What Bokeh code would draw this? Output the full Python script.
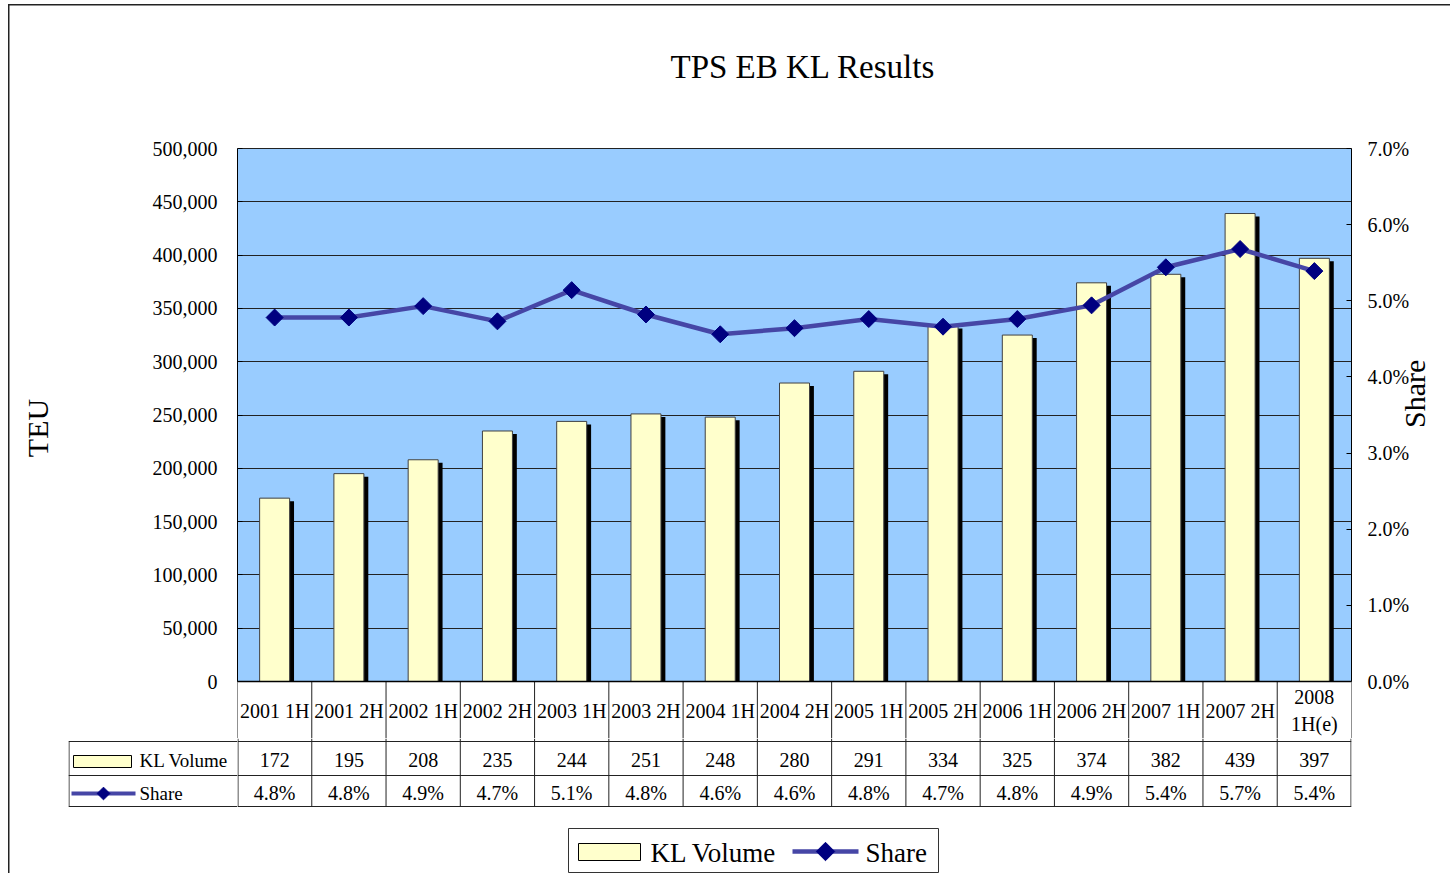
import math
from bokeh.plotting import figure
from bokeh.models import (FactorRange, Range1d, LinearAxis, FixedTicker, NumeralTickFormatter,
                          ColumnDataSource, BoxAnnotation, Span, Grid)
from bokeh.transform import dodge
from bokeh.layouts import column, row
from bokeh.core.properties import value
from bokeh.embed import file_html
from bokeh.resources import INLINE

# ---------------- data ----------------
categories = ["2001 1H", "2001 2H", "2002 1H", "2002 2H", "2003 1H", "2003 2H", "2004 1H",
              "2004 2H", "2005 1H", "2005 2H", "2006 1H", "2006 2H", "2007 1H", "2007 2H",
              "2008 1H(e)"]
kl_volume = [172000, 195000, 208000, 235000, 244000, 251000, 248000, 280000, 291000,
             334000, 325000, 374000, 382000, 439000, 397000]
share = [0.0478, 0.0478, 0.0493, 0.0473, 0.0514, 0.0482, 0.0456, 0.0464, 0.0476,
         0.0466, 0.0476, 0.0494, 0.0544, 0.0568, 0.0539]
teu_ticks = [0, 50000, 100000, 150000, 200000, 250000, 300000, 350000, 400000, 450000, 500000]
share_ticks = [0.0, 0.01, 0.02, 0.03, 0.04, 0.05, 0.06, 0.07]
title_text = "TPS EB KL Results"
series_names = ["KL Volume", "Share"]

# ---------------- layout (page pixels) ----------------
FONT = "Liberation Serif"
W = 1450
PLOT_L, PLOT_R, PLOT_T, ZERO_Y = 237, 1351, 148, 681
FRAME_T = 117
SPLIT_Y = 738
PAGE_BOTTOM = 873
TABLE_L = 68
ROW_Y = [741, 775, 806]
TEU_MAX = teu_ticks[-1]
SHARE_MAX = share_ticks[-1]
px_per_teu = (ZERO_Y - PLOT_T) / TEU_MAX
y_start = -(SPLIT_Y - ZERO_Y) / px_per_teu
y_end = TEU_MAX + (PLOT_T - FRAME_T) / px_per_teu
n = len(categories)
CW = (PLOT_R - PLOT_L) / n
H2 = PAGE_BOTTOM - SPLIT_Y

BLUE = "#99CCFF"
BAR = "#FFFFCC"
LINE = "#4646A6"
MARK = "#000080"
GRIDC = "#222222"

src = ColumnDataSource(dict(
    cat=categories, vol=kl_volume, share=share,
    label=[c.replace(" ", "\n") if len(c) > 8 else c for c in categories],
))

common = dict(toolbar_location=None, output_backend="svg",
              x_axis_location=None, y_axis_location=None,
              background_fill_color="white", border_fill_color=None,
              outline_line_color=None)

# ---------------- top figure (chart + category row) ----------------
top = figure(width=W, height=SPLIT_Y,
             x_range=FactorRange(*categories), y_range=Range1d(y_start, y_end),
             min_border_left=PLOT_L, min_border_right=W - PLOT_R,
             min_border_top=FRAME_T, min_border_bottom=0, **common)
top.xgrid.visible = False
top.ygrid.visible = False

top.title.text = title_text
top.title.text_font = FONT
top.title.text_font_size = "33px"
top.title.text_font_style = "normal"
top.title.align = "left"
top.title.offset = 801 - 131 - PLOT_L
top.title.standoff = 65
top.title.text_color = "black"

top.extra_y_ranges = {"share": Range1d(y_start * SHARE_MAX / TEU_MAX,
                                       y_end * SHARE_MAX / TEU_MAX)}

top.add_layout(BoxAnnotation(bottom=0, top=TEU_MAX, fill_color=BLUE, fill_alpha=1.0,
                             line_color=None, level="image"))
top.add_layout(Grid(dimension=1, ticker=FixedTicker(ticks=teu_ticks),
                    grid_line_color=GRIDC, grid_line_width=1))

left_ax = LinearAxis(ticker=FixedTicker(ticks=teu_ticks),
                     formatter=NumeralTickFormatter(format="0,0"),
                     bounds=(0, TEU_MAX), axis_label="TEU")
right_ax = LinearAxis(y_range_name="share", ticker=FixedTicker(ticks=share_ticks),
                      formatter=NumeralTickFormatter(format="0.0%"),
                      bounds=(0, SHARE_MAX), axis_label="Share")
for ax in (left_ax, right_ax):
    ax.major_label_text_font = FONT
    ax.major_label_text_font_size = "20px"
    ax.major_label_text_color = "black"
    ax.axis_label_text_font = FONT
    ax.axis_label_text_font_size = "30px"
    ax.axis_label_text_font_style = "normal"
    ax.axis_label_text_color = "black"
    ax.axis_line_color = "black"
    ax.axis_line_width = 1
    ax.major_tick_in = 5
    ax.major_tick_out = 0
    ax.major_tick_line_color = "black"
    ax.minor_tick_line_color = None
left_ax.major_label_standoff = 20
left_ax.axis_label_standoff = 96
right_ax.major_label_standoff = 16
right_ax.axis_label_standoff = 2
right_ax.axis_label_orientation = math.pi / 2
top.add_layout(left_ax, "left")
top.add_layout(right_ax, "right")

# bars with shadow
BAR_W = 30 / CW
top.vbar(x=dodge("cat", 4.4 / CW, range=top.x_range), top=dodge("vol", -3 / px_per_teu),
         width=BAR_W, source=src, fill_color="black", line_color=None)
top.vbar(x="cat", top="vol", width=BAR_W, source=src, fill_color=BAR,
         line_color="#404040", line_width=1)

# share line
top.line(x="cat", y="share", y_range_name="share", source=src,
         line_color=LINE, line_width=4.5)
top.scatter(x="cat", y="share", y_range_name="share", source=src, marker="square",
            angle=math.pi / 4, size=12, fill_color=MARK, line_color=MARK)

# x axis line and category row
top.add_layout(Span(location=0, dimension="width", line_color="black", line_width=1.5))
edges = [i for i in range(n + 1)]
top.segment(x0=edges, y0=[y_start] * len(edges), x1=edges, y1=[0] * len(edges),
            line_color=GRIDC, line_width=1)
top.text(x="cat", y=-(710 - ZERO_Y) / px_per_teu, text="label", source=src,
         text_font=value(FONT), text_font_size="20px", text_align="center",
         text_baseline="middle", text_color="black", text_line_height=1.25)

# ---------------- bottom-left figure (row labels of the data table) ----------------
def by(py):
    return py - SPLIT_Y

hy = [by(v) for v in ROW_Y]
lab = figure(width=PLOT_L, height=H2,
             x_range=Range1d(TABLE_L, PLOT_L), y_range=Range1d(H2, 0),
             min_border_left=TABLE_L, min_border_right=0,
             min_border_top=0, min_border_bottom=0, **common)
lab.xgrid.visible = False
lab.ygrid.visible = False
lab.segment(x0=[TABLE_L] * 3, y0=hy, x1=[PLOT_L] * 3, y1=hy, line_color=GRIDC, line_width=1)
lab.segment(x0=[TABLE_L + 0.5], y0=[hy[0]], x1=[TABLE_L + 0.5], y1=[hy[-1]],
            line_color=GRIDC, line_width=1)
lab.rect(x=[102], y=[by(761)], width=58, height=12, fill_color=BAR,
         line_color="black", line_width=1)
lab.segment(x0=[71], y0=[by(793)], x1=[135], y1=[by(793)], line_color=LINE, line_width=4)
lab.scatter(x=[103], y=[by(793)], marker="square", angle=math.pi / 4, size=9,
            fill_color=MARK, line_color=MARK)
lab.text(x=[139, 139], y=[by(760), by(793)], text=series_names,
         text_font=value(FONT), text_font_size="19px", text_align="left",
         text_baseline="middle", text_color="black")

# ---------------- bottom-right figure (data table + legend) ----------------
def bx(px):
    return (px - PLOT_L) / CW

tab = figure(width=W - PLOT_L, height=H2,
             x_range=Range1d(0, n), y_range=Range1d(H2, 0),
             min_border_left=0, min_border_right=W - PLOT_R,
             min_border_top=0, min_border_bottom=0, **common)
tab.xgrid.visible = False
tab.ygrid.visible = False

tab.segment(x0=[0] * 3, y0=hy, x1=[n] * 3, y1=hy, line_color=GRIDC, line_width=1)
vx = [e + (0.5 / CW if e == 0 else 0) - (0.5 / CW if e == n else 0) for e in edges]
tab.segment(x0=vx, y0=[0] * len(vx), x1=vx, y1=[hy[-1]] * len(vx),
            line_color=GRIDC, line_width=1)

centers = [i + 0.5 for i in range(n)]
vol_text = [f"{v / 1000:.0f}" for v in kl_volume]
share_text = [f"{s * 100:.1f}%" for s in share]
tab.text(x=centers, y=[by(759)] * n, text=vol_text, text_font=value(FONT),
         text_font_size="20px", text_align="center", text_baseline="middle",
         text_color="black")
tab.text(x=centers, y=[by(792)] * n, text=share_text, text_font=value(FONT),
         text_font_size="20px", text_align="center", text_baseline="middle",
         text_color="black")

# legend
tab.rect(x=[bx((568 + 938) / 2)], y=[by(850)], width=370, height=44,
         width_units="screen", height_units="screen", fill_color="white",
         line_color="#333333", line_width=1)
tab.rect(x=[bx(609)], y=[by(851.5)], width=62, height=17, width_units="screen",
         height_units="screen", fill_color=BAR, line_color="black", line_width=1)
tab.segment(x0=[bx(792)], y0=[by(851)], x1=[bx(858)], y1=[by(851)],
            line_color=LINE, line_width=4.5)
tab.scatter(x=[bx(825)], y=[by(851)], marker="square", angle=math.pi / 4, size=13,
            fill_color=MARK, line_color=MARK)
tab.text(x=[bx(650), bx(865)], y=[by(852), by(852)], text=series_names,
         text_font=value(FONT), text_font_size="27px", text_align="left",
         text_baseline="middle", text_color="black")

layout = column(top, row(lab, tab, spacing=0), spacing=0,
                styles={"box-shadow": "inset 8px 4px 0 0 white, inset 9.5px 5.5px 0 0 #222222",
                        "background-color": "white"})
open("out.html", "w").write(file_html(layout, INLINE))
